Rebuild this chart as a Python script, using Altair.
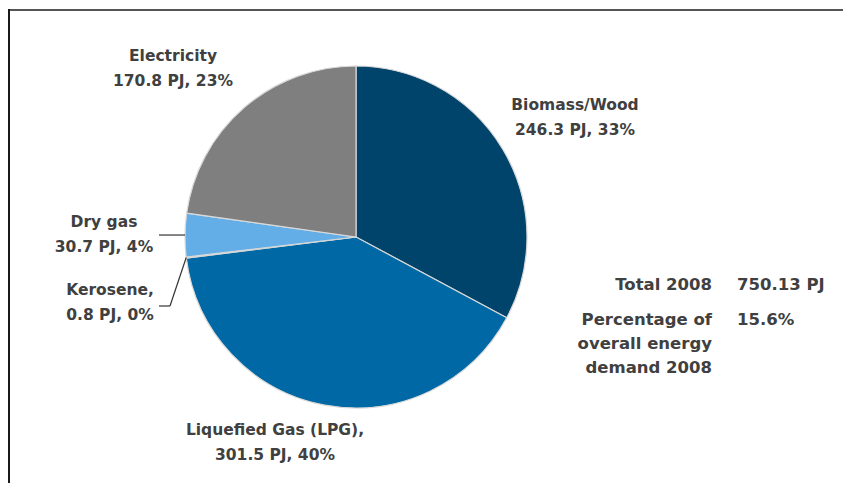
import altair as alt
import pandas as pd

# ---- data ----
categories = ["Biomass/Wood", "Liquefied Gas (LPG)", "Kerosene", "Dry gas", "Electricity"]
values_pj = [246.3, 301.5, 0.8, 30.7, 170.8]
label_names = ["Biomass/Wood", "Liquefied Gas (LPG),", "Kerosene,", "Dry gas", "Electricity"]
summary_left = ["Total 2008", "Percentage of", "overall energy", "demand 2008"]
summary_right = ["750.13 PJ", "15.6%"]

# ---- styles / layout ----
colors = ["#00446b", "#0068a5", "#2f86c6", "#63aee6", "#7f7f7f"]
CX, CY, R = 348, 229, 171
label_x = [567, 267, 102, 96, 165]
label_y = [97, 422, 282, 214, 48]
LINE_H = 25
leader_cats = ["Kerosene", "Dry gas"]
leader_elbow = {"Kerosene": (162, 298), "Dry gas": (None, None)}
LEADER_END_X = 151
FONT = "DejaVu Sans"
TXT = "#404040"
W, H = 835, 475

total = sum(values_pj)
df = pd.DataFrame({
    "category": categories,
    "value": values_pj,
    "order": list(range(len(categories))),
    "line1": label_names,
    "line2": [f"{v:g} PJ, {round(v / total * 100):.0f}%" for v in values_pj],
    "lx": label_x,
    "ly": label_y,
})
df["ly2"] = df["ly"] + LINE_H
df["kx"] = [leader_elbow.get(c, (None, None))[0] for c in categories]
df["ky"] = [leader_elbow.get(c, (None, None))[1] for c in categories]

base = alt.Chart(df)

arcs = base.mark_arc(outerRadius=R, stroke="#d8d8d8", strokeWidth=1.2).encode(
    theta=alt.Theta("value:Q", stack=True),
    order=alt.Order("order:Q"),
    color=alt.Color("category:N", scale=alt.Scale(domain=categories, range=colors), legend=None),
    x=alt.value(CX),
    y=alt.value(CY),
)

txt_kw = dict(font=FONT, fontWeight="bold", fontSize=15.5, color=TXT, baseline="middle")
sum_kw = dict(font=FONT, fontWeight="bold", fontSize=16.5, color=TXT, baseline="middle")
lab1 = base.mark_text(align="center", **txt_kw).encode(
    x=alt.X("lx:Q", scale=None), y=alt.Y("ly:Q", scale=None), text="line1:N")
lab2 = base.mark_text(align="center", **txt_kw).encode(
    x=alt.X("lx:Q", scale=None), y=alt.Y("ly2:Q", scale=None), text="line2:N")

geo = base.transform_window(
    cum="sum(value)", sort=[alt.SortField("order")], frame=[None, 0]
).transform_joinaggregate(
    tot="sum(value)"
).transform_calculate(
    mid="(datum.cum - datum.value/2) / datum.tot * 2 * PI"
).transform_calculate(
    ex=f"{CX} + {R} * sin(datum.mid)",
    ey=f"{CY} - {R} * cos(datum.mid)",
).transform_filter(
    alt.FieldOneOfPredicate(field="category", oneOf=leader_cats)
).transform_calculate(
    kx2=f"datum.kx == null ? {LEADER_END_X} : datum.kx",
    ky2="datum.ky == null ? datum.ey : datum.ky",
    endx=f"{LEADER_END_X}",
)

lead1 = geo.mark_rule(color="#333333", strokeWidth=1.2).encode(
    x=alt.X("ex:Q", scale=None), y=alt.Y("ey:Q", scale=None),
    x2="kx2:Q", y2="ky2:Q")
lead2 = geo.mark_rule(color="#333333", strokeWidth=1.2).encode(
    x=alt.X("kx2:Q", scale=None), y=alt.Y("ky2:Q", scale=None),
    x2="endx:Q", y2="ky2:Q")

left_df = pd.DataFrame({"t": summary_left, "yy": [277, 312, 336, 360]})
right_df = pd.DataFrame({"t": summary_right, "yy": [277, 312]})
sum_left = alt.Chart(left_df).mark_text(align="right", **sum_kw).encode(
    x=alt.value(704), y=alt.Y("yy:Q", scale=None), text="t:N")
sum_right = alt.Chart(right_df).mark_text(align="left", **sum_kw).encode(
    x=alt.value(729), y=alt.Y("yy:Q", scale=None), text="t:N")

one = pd.DataFrame({"a": [0]})
top_border = alt.Chart(one).mark_rule(color="#555555", strokeWidth=2).encode(
    x=alt.value(0), x2=alt.value(W), y=alt.value(2))
left_border = alt.Chart(one).mark_rule(color="#1a1a1a", strokeWidth=2).encode(
    x=alt.value(1), y=alt.value(1), y2=alt.value(H))

chart = alt.layer(
    arcs, lead1, lead2, lab1, lab2, sum_left, sum_right, top_border, left_border
).properties(
    width=W, height=H, autosize="none", padding=0
).configure_view(stroke=None)

chart.save("out.html", embed_options={"renderer": "svg", "actions": False})
